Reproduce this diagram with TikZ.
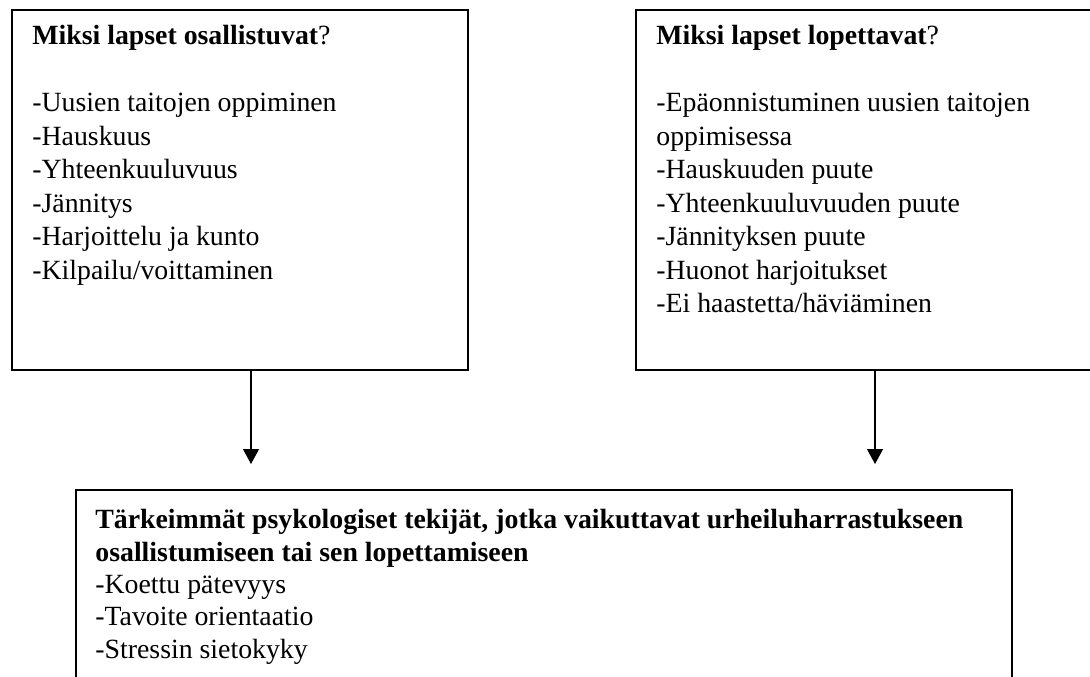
\documentclass[tikz,border=0pt]{standalone}
\usepackage{fontspec}
\setmainfont{Liberation Serif}
\usetikzlibrary{arrows.meta}
\tikzset{
  box/.style={draw, line width=0.75pt, anchor=north west, inner sep=0pt},
  boxtext/.style={anchor=north west, inner sep=0pt, align=left, font=\fontsize{13.9}{16.75}\selectfont},
  flow/.style={line width=0.55pt, -{Triangle[width=8pt,length=7.5pt]}},
}

\begin{document}
\begin{tikzpicture}[x=0.5pt,y=-0.5pt]
        \clip (0,0) rectangle (1090,676);

        % boxes (right and lower ones run off the page)
        \node[box, minimum width=228pt, minimum height=180pt] (osall) at (11,9) {};
        \node[box, minimum width=240pt, minimum height=180pt] (lopet) at (635,9) {};
        \node[box, minimum width=468pt, minimum height=110pt] (tekijat) at (75,489) {};

        % texts
        \node[boxtext] (osallText) at (32,25) {\textbf{Miksi lapset osallistuvat}?\\[16.75pt]
          -Uusien taitojen oppiminen\\
          -Hauskuus\\
          -Yhteenkuuluvuus\\
          -Jännitys\\
          -Harjoittelu ja kunto\\
          -Kilpailu/voittaminen};
        \node[boxtext] (lopetText) at (656,25) {\textbf{Miksi lapset lopettavat}?\\[16.75pt]
          -Epäonnistuminen uusien taitojen\\
          oppimisessa\\
          -Hauskuuden puute\\
          -Yhteenkuuluvuuden puute\\
          -Jännityksen puute\\
          -Huonot harjoitukset\\
          -Ei haastetta/häviäminen};
        \node[boxtext, font=\fontsize{13.9}{16.2}\selectfont] (tekijatText) at (95,509)
          {\textbf{Tärkeimmät psykologiset tekijät, jotka vaikuttavat urheiluharrastukseen}\\
          \textbf{osallistumiseen tai sen lopettamiseen}\\
          -Koettu pätevyys\\
          -Tavoite orientaatio\\
          -Stressin sietokyky};

        % arrows down to the lower box
        \coordinate (osallEnd) at (251,464);
        \coordinate (lopetEnd) at (875,464);
        \draw[flow] (osallEnd |- osall.south) -- (osallEnd);
        \draw[flow] (lopetEnd |- lopet.south) -- (lopetEnd);
    \end{tikzpicture}
\end{document}
